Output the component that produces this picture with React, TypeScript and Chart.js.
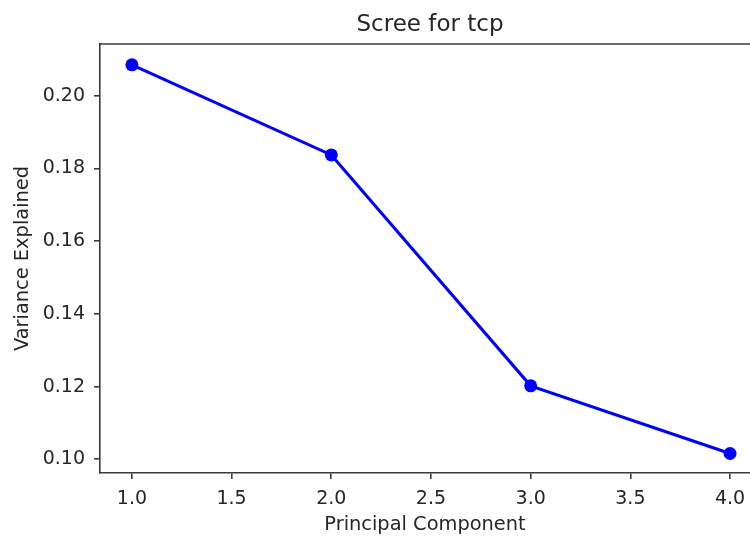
import React, { useEffect, useRef } from 'react';
import { Chart, registerables } from 'chart.js';
Chart.register(...registerables);

const components = [1, 2, 3, 4];
const variance = [0.2085, 0.1837, 0.1202, 0.1016];
const xTicks = [1.0, 1.5, 2.0, 2.5, 3.0, 3.5, 4.0];
const yTicks = [0.1, 0.12, 0.14, 0.16, 0.18, 0.2];
const titleText = 'Scree for tcp';
const xLabel = 'Principal Component';
const yLabel = 'Variance Explained';

const FONT = "'DejaVu Sans', sans-serif";
const SPINE = '#3a3a3a';
const TEXT = '#262626';

const topSpineAndTitle = {
  id: 'topSpineAndTitle',
  afterDraw(chart: any) {
    const { ctx, chartArea } = chart;
    ctx.save();
    ctx.strokeStyle = SPINE;
    ctx.lineWidth = 1.6;
    ctx.beginPath();
    ctx.moveTo(chartArea.left, chartArea.top);
    ctx.lineTo(chartArea.right + 20, chartArea.top);
    ctx.stroke();
    ctx.fillStyle = TEXT;
    ctx.font = `23px ${FONT}`;
    ctx.textAlign = 'center';
    ctx.textBaseline = 'middle';
    ctx.fillText(titleText, 430, 25);
    ctx.restore();
  },
};

export default function App() {
  const ref = useRef<HTMLCanvasElement>(null);
  useEffect(() => {
    if (!ref.current) return;
    const chart = new Chart(ref.current, {
      type: 'line',
      data: {
        datasets: [
          {
            data: components.map((c, i) => ({ x: c, y: variance[i] })),
            borderColor: '#0000ff',
            backgroundColor: '#0000ff',
            borderWidth: 3,
            pointRadius: 6.5,
            pointBorderWidth: 0,
            pointBackgroundColor: '#0000ff',
            tension: 0,
            clip: false,
          },
        ],
      },
      options: {
        responsive: false,
        animation: false,
        layout: { autoPadding: false, padding: { top: 44, right: 0, left: 0, bottom: 0 } },
        plugins: { legend: { display: false }, tooltip: { enabled: false }, title: { display: false } },
        scales: {
          x: {
            type: 'linear',
            min: 0.84,
            max: 4.1,
            afterFit: (s: any) => { s.height = 63; s.paddingRight = 0; s.paddingLeft = 0; },
            afterBuildTicks: (s: any) => { s.ticks = xTicks.map((v) => ({ value: v })); },
            grid: { drawOnChartArea: false, drawTicks: true, tickLength: 6, color: SPINE, lineWidth: 1.6 },
            border: { display: true, color: SPINE, width: 1.6 },
            ticks: {
              color: TEXT,
              font: { family: FONT, size: 19 },
              padding: 9,
              maxRotation: 0,
              callback: (v: any) => Number(v).toFixed(1),
            },
            title: { display: true, text: xLabel, color: TEXT, font: { family: FONT, size: 19.4, lineHeight: 1.1 }, padding: { top: 0, bottom: 0 } },
          },
          y: {
            type: 'linear',
            min: 0.09623,
            max: 0.21422,
            afterFit: (s: any) => { s.width = 100; s.paddingTop = 0; s.paddingBottom = 0; },
            afterBuildTicks: (s: any) => { s.ticks = yTicks.map((v) => ({ value: v })); },
            grid: { drawOnChartArea: false, drawTicks: true, tickLength: 6, color: SPINE, lineWidth: 1.6 },
            border: { display: true, color: SPINE, width: 1.6 },
            ticks: {
              color: TEXT,
              font: { family: FONT, size: 19 },
              padding: 9,
              callback: (v: any) => Number(v).toFixed(2),
            },
            title: { display: true, text: yLabel, color: TEXT, font: { family: FONT, size: 19.4, lineHeight: 1.1 }, padding: { top: 12, bottom: 0 } },
          },
        },
      },
      plugins: [topSpineAndTitle],
    });
    return () => chart.destroy();
  }, []);
  return (
    <div style={{ position: 'absolute', left: 0, top: 0, width: 750, height: 536, background: '#fff' }}>
      <canvas ref={ref} width={750} height={536} />
    </div>
  );
}
